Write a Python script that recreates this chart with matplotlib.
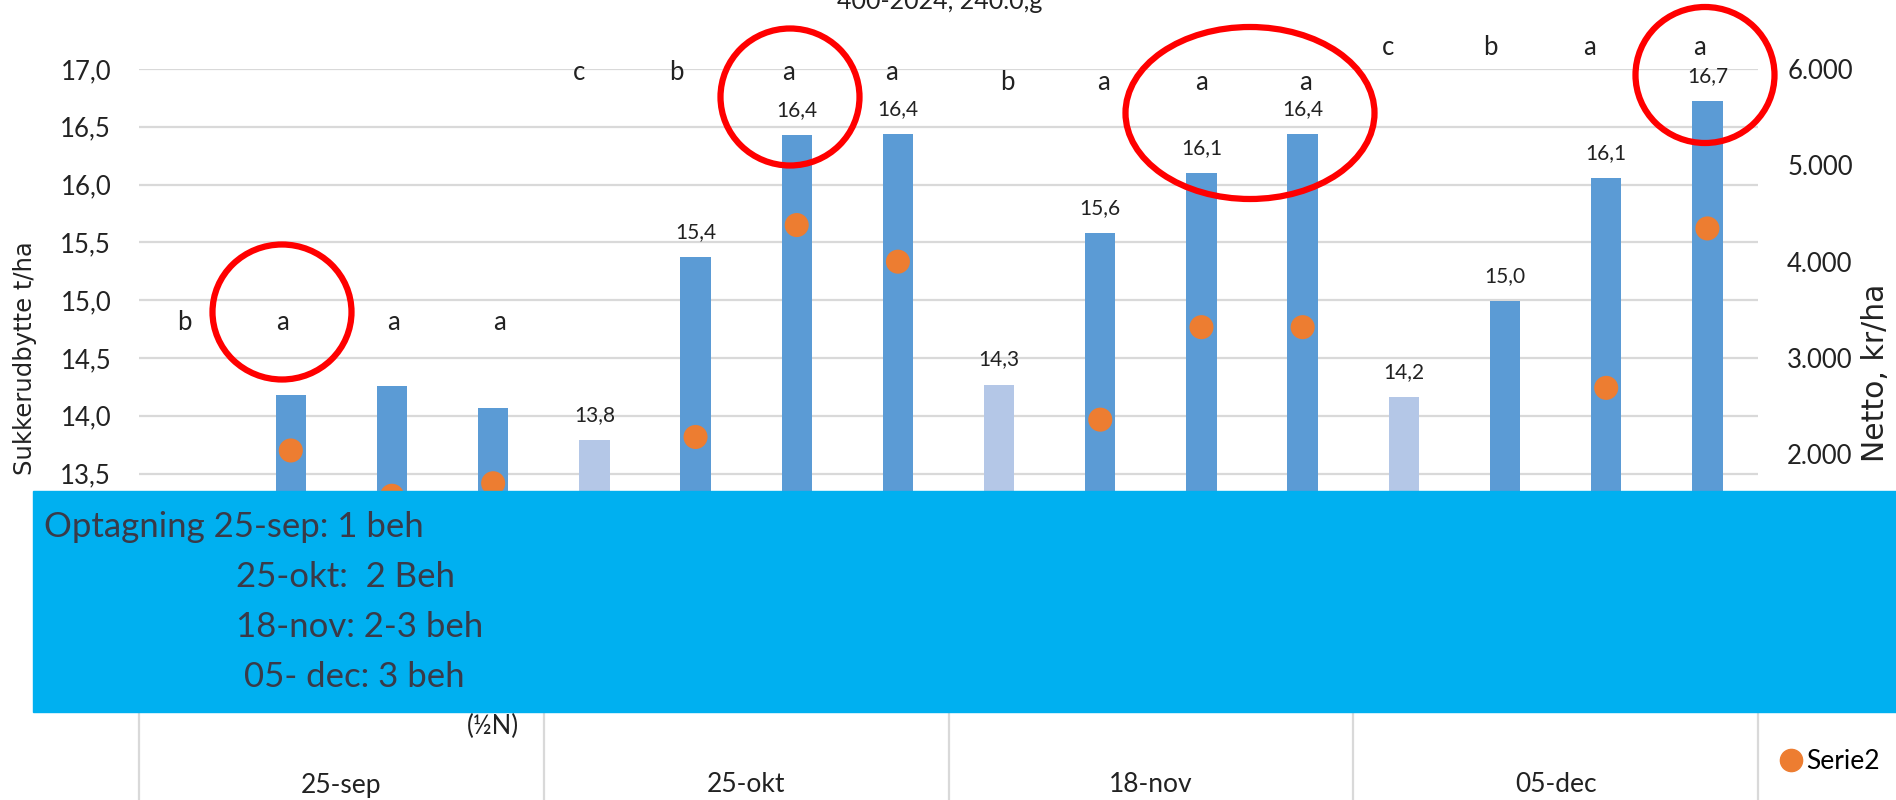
import numpy as np
import matplotlib
matplotlib.use("Agg")
import matplotlib.pyplot as plt
from matplotlib.patches import Rectangle, Ellipse, Patch
from matplotlib.lines import Line2D
from matplotlib.transforms import blended_transform_factory

## data
dates = ["25-sep", "25-okt", "18-nov", "05-dec"]
treat_labels = ["", "", "", "(½N)", "", "", "", "", "", "", "", "", "", "", "", ""]
sukker = [13.20, 14.18, 14.26, 14.07,
          13.79, 15.37, 16.43, 16.44,
          14.27, 15.58, 16.10, 16.44,
          14.16, 14.99, 16.06, 16.72]
netto = [np.nan, 2040, 1570, 1700,
         np.nan, 2180, 4380, 4000,
         np.nan, 2360, 3320, 3320,
         np.nan, 1300, 2690, 4345]
letters = ["b", "a", "a", "a",
           "c", "b", "a", "a",
           "b", "a", "a", "a",
           "c", "b", "a", "a"]
show_label = [False] * 4 + [True] * 12
is_control = [i % 4 == 0 for i in range(16)]

W, H = 1896, 800
plt.rcParams["font.family"] = ["Lato", "DejaVu Sans"]
fig = plt.figure(figsize=(W / 100, H / 100), dpi=100)
ax = fig.add_axes([139 / W, 1 - 647 / H, (1758 - 139) / W, (647 - 69) / H])

x = np.arange(len(sukker))
cols = ["#B4C7E7" if c else "#5B9BD5" for c in is_control]
ax.bar(x, sukker, width=0.3, color=cols, zorder=2)
ax.set_ylim(12, 17)
ax.set_xlim(-0.5, 15.5)
ax.set_yticks(np.arange(12, 17.01, 0.5))
ax.set_yticklabels([f"{v:.1f}".replace(".", ",") for v in np.arange(12, 17.01, 0.5)])
ax.yaxis.grid(True, color="#D9D9D9", lw=1.6)
ax.set_axisbelow(True)
ax.set_xticks(x)
ax.set_xticklabels(treat_labels, fontsize=18.5, color="#222222")
ax.tick_params(axis="x", length=0, pad=48)
ax.tick_params(axis="y", length=0, pad=20, labelsize=18.5, labelcolor="#222222")
for s in ax.spines.values():
    s.set_visible(False)

# value labels
for i, v in enumerate(sukker):
    if show_label[i]:
        ax.annotate(f"{v:.1f}".replace(".", ","), (i, v), xytext=(0, 18),
                    textcoords="offset points", ha="center", va="center",
                    fontsize=15, color="#222222")

# significance letters
letter_y = [14.81] * 4 + [16.97] * 4 + [16.88] * 4 + [17.19] * 4
letter_dx = [-0.05, -0.08, 0.02, 0.06, -0.15, -0.19, -0.08, -0.06,
             0.08, 0.03, 0.0, 0.03, -0.16, -0.14, -0.17, -0.08]
for i, t in enumerate(letters):
    ax.text(i + letter_dx[i], letter_y[i], t, ha="center", va="center",
            fontsize=18.5, color="#222222", clip_on=False)

# category axis: group separators and date labels
tr = blended_transform_factory(ax.transData, ax.transAxes)
bottom = -(H - 647) / (647 - 69)
for b in [-0.5, 3.5, 7.5, 11.5, 15.5]:
    ax.plot([b, b], [0, bottom], transform=tr, color="#D9D9D9", lw=1.6,
            clip_on=False)
for g, d in enumerate(dates):
    ax.text(g * 4 + 1.5, -(785 - 647) / (647 - 69), d, transform=tr,
            ha="center", va="center", fontsize=19, color="#222222")

ax2 = ax.twinx()
ax2.scatter(x, netto, s=300, color="#ED7D31", zorder=3, edgecolors="none")
ax2.set_ylim(0, 6000)
ax2.set_yticks(np.arange(0, 6001, 1000))
ax2.set_yticklabels([f"{int(v):,}".replace(",", ".") for v in np.arange(0, 6001, 1000)])
ax2.tick_params(axis="y", length=0, pad=21, labelsize=18.5, labelcolor="#222222")
for s in ax2.spines.values():
    s.set_visible(False)

# axis titles
fig.text(25 / W, 1 - 358 / H, "Sukkerudbytte t/ha", rotation=90, ha="center",
         va="center", fontsize=17.5, family="DejaVu Sans", color="#222222")
fig.text(1876 / W, 1 - 373 / H, "Netto, kr/ha", rotation=90, ha="center",
         va="center", fontsize=21.5, family="DejaVu Sans", color="#222222")

# cut-off title at the very top
fig.text(940 / W, 1 - 9 / H, "400-2024, 240.0,g", ha="center", va="baseline",
         fontsize=18, color="#222222")

# legend
handles = [Patch(color="#5B9BD5"),
           Line2D([], [], marker="o", ls="none", color="#ED7D31", markersize=16)]
fig.legend(handles, ["Sukkerudbytte t/ha", "Serie2"], loc="upper left",
           bbox_to_anchor=(1780 / W, 1 - 690 / H), frameon=False, fontsize=19,
           handlelength=0.8, handletextpad=0.2, labelspacing=1.3,
           borderpad=0, borderaxespad=0)

# overlay box with text
fig.add_artist(Rectangle((33 / W, 1 - 712 / H), 1 - 33 / W, (712 - 491) / H,
                         transform=fig.transFigure, color="#00B0F0", zorder=10))
box_lines = [(44, 527, "Optagning 25-sep: 1 beh"),
             (236, 577, "25-okt:  2 Beh"),
             (236, 627, "18-nov: 2-3 beh"),
             (244, 677, "05- dec: 3 beh")]
for bx, by, t in box_lines:
    fig.text(bx / W, 1 - by / H, t, ha="left", va="center", fontsize=25,
             color="#3A3A48", zorder=11)

# red circles
for cx, cy, ew, eh in [(282, 312, 139, 135), (790, 97, 139, 137),
                       (1250, 113, 249, 172), (1705, 75, 139, 136)]:
    fig.add_artist(Ellipse((cx / W, 1 - cy / H), ew / W, eh / H,
                           transform=fig.transFigure, fill=False,
                           edgecolor="#FF0000", lw=4.5, zorder=12))

fig.savefig("out.png", dpi=100)
